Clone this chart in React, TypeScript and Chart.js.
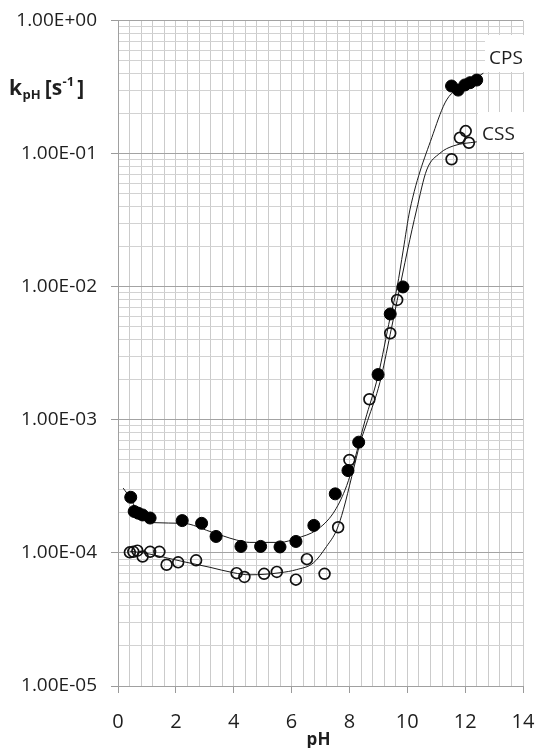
import React, { useEffect, useRef } from "react";
import { Chart, registerables } from "chart.js";

Chart.register(...registerables);

// ---- data ----
const CPS_PH = [0.44, 0.56, 0.70, 0.85, 1.11, 2.22, 2.89, 3.39, 4.25, 4.93, 5.60, 6.15, 6.77, 7.51, 7.95, 8.32, 8.99, 9.41, 9.85, 11.53, 11.76, 11.99, 12.17, 12.40];
const CPS_K = [2.62e-4, 2.05e-4, 1.99e-4, 1.93e-4, 1.83e-4, 1.75e-4, 1.67e-4, 1.33e-4, 1.12e-4, 1.12e-4, 1.11e-4, 1.22e-4, 1.61e-4, 2.78e-4, 4.16e-4, 6.8e-4, 2.19e-3, 6.25e-3, 9.98e-3, 0.323, 0.301, 0.329, 0.342, 0.358];

const CSS_PH = [0.41, 0.53, 0.67, 0.85, 1.11, 1.43, 1.68, 2.08, 2.70, 4.10, 4.37, 5.05, 5.49, 6.15, 6.53, 7.14, 7.61, 8.00, 8.69, 9.41, 9.65, 11.53, 11.82, 12.02, 12.13];
const CSS_K = [1.01e-4, 1.02e-4, 1.04e-4, 9.4e-5, 1.02e-4, 1.02e-4, 8.15e-5, 8.5e-5, 8.8e-5, 7.05e-5, 6.6e-5, 6.97e-5, 7.2e-5, 6.3e-5, 8.98e-5, 6.97e-5, 1.56e-4, 5.0e-4, 1.43e-3, 4.48e-3, 7.97e-3, 9.1e-2, 0.132, 0.148, 0.121];

const CPS_FIT_PH = [0.18, 0.44, 0.70, 1.00, 1.22, 2.26, 3.18, 4.10, 4.56, 5.60, 6.18, 6.87, 7.44, 7.85, 8.08, 8.54, 8.99, 9.41, 9.65, 9.86, 10.09, 10.90, 11.36, 12.00, 12.63];
const CPS_FIT_K = [3.07e-4, 2.55e-4, 2.0e-4, 1.78e-4, 1.69e-4, 1.67e-4, 1.45e-4, 1.25e-4, 1.2e-4, 1.2e-4, 1.29e-4, 1.49e-4, 1.99e-4, 2.98e-4, 4.2e-4, 9.9e-4, 2.15e-3, 5.9e-3, 1.0e-2, 1.89e-2, 3.78e-2, 0.1426, 0.254, 0.33, 0.403];

const CSS_FIT_PH = [0.40, 0.90, 1.57, 2.26, 3.18, 3.99, 4.56, 5.60, 6.18, 6.75, 7.21, 7.56, 7.79, 8.08, 8.37, 8.63, 9.05, 9.41, 9.65, 10.01, 10.32, 10.67, 11.13, 11.59, 12.40];
const CSS_FIT_K = [1.03e-4, 1.0e-4, 9.3e-5, 8.6e-5, 7.8e-5, 7.1e-5, 6.85e-5, 7.1e-5, 7.5e-5, 8.4e-5, 1.12e-4, 1.49e-4, 2.11e-4, 3.75e-4, 6.7e-4, 9.9e-4, 1.9e-3, 4.4e-3, 7.9e-3, 1.89e-2, 3.78e-2, 7.55e-2, 0.101, 0.1145, 0.123];

const X_TICK_LABELS = ["0", "2", "4", "6", "8", "10", "12", "14"];
const Y_TICK_LABELS = ["1.00E-05", "1.00E-04", "1.00E-03", "1.00E-02", "1.00E-01", "1.00E+00"];
const X_MIN = 0;
const X_MAX = 14;
const X_GRID_STEP = 0.4;
const Y_MIN_EXP = -5;
const Y_MAX_EXP = 0;

const FONT = "'Open Sans', 'DejaVu Sans', sans-serif";
const TEXT = "#1e1e1e";

const xGridValues: number[] = [];
for (let i = 0; i <= Math.round((X_MAX - X_MIN) / X_GRID_STEP); i++) xGridValues.push(+(X_MIN + i * X_GRID_STEP).toFixed(4));
const yGridValues: number[] = [];
for (let e = Y_MIN_EXP; e < Y_MAX_EXP; e++) for (let m = 1; m <= 9; m++) yGridValues.push(+(m * Math.pow(10, e)).toPrecision(6));
yGridValues.push(Math.pow(10, Y_MAX_EXP));

const isEven = (v: number) => Math.abs(v - Math.round(v)) < 1e-6 && Math.round(v) % 2 === 0;
const isDecade = (v: number) => { const l = Math.log10(v); return Math.abs(l - Math.round(l)) < 1e-6; };

const pts = (xs: number[], ys: number[]) => xs.map((x, i) => ({ x, y: ys[i] }));

const textPlugin = {
  id: "textPlugin",
  beforeDatasetsDraw(chart: any) {
    const ctx = chart.ctx;
    ctx.save();
    ctx.fillStyle = "#ffffff";
    ctx.fillRect(485, 35, 50, 37);
    ctx.fillRect(478, 112, 57, 40);
    ctx.fillStyle = TEXT;
    ctx.font = `19px ${FONT}`;
    ctx.textAlign = "left";
    ctx.textBaseline = "alphabetic";
    ctx.fillText("CPS", 489, 64);
    ctx.fillText("CSS", 482, 140);
    ctx.restore();
  },
  afterDraw(chart: any) {
    const ctx = chart.ctx;
    ctx.save();
    ctx.fillStyle = TEXT;
    ctx.textAlign = "left";
    ctx.textBaseline = "alphabetic";
    const base = 95;
    let x = 9;
    ctx.font = `bold 21px ${FONT}`;
    ctx.fillText("k", x, base);
    x += ctx.measureText("k").width + 0.5;
    ctx.font = `bold 13px ${FONT}`;
    ctx.fillText("pH", x, base + 4);
    x += ctx.measureText("pH").width + 4;
    ctx.font = `bold 21px ${FONT}`;
    ctx.fillText("[s", x, base);
    x += ctx.measureText("[s").width + 0.5;
    ctx.font = `bold 13px ${FONT}`;
    ctx.fillText("-1", x, base - 9);
    x += ctx.measureText("-1").width + 3;
    ctx.font = `bold 21px ${FONT}`;
    ctx.fillText("]", x, base);

    const a = chart.chartArea;
    ctx.font = `bold 17px ${FONT}`;
    ctx.textAlign = "center";
    ctx.fillText("pH", (a.left + a.right) / 2 - 2, 745);
    ctx.restore();
  },
};

export default function App() {
  const ref = useRef<HTMLCanvasElement | null>(null);
  useEffect(() => {
    document.body.style.margin = "0";
    const canvas = ref.current;
    if (!canvas) return;
    const chart = new Chart(canvas, {
      type: "scatter",
      data: {
        datasets: [
          {
            label: "CPS",
            data: pts(CPS_PH, CPS_K),
            showLine: false,
            pointRadius: 6,
            pointBackgroundColor: "#000000",
            pointBorderColor: "#000000",
            pointBorderWidth: 1,
            order: 0,
          },
          {
            label: "CSS",
            data: pts(CSS_PH, CSS_K),
            showLine: false,
            pointRadius: 5.4,
            pointBackgroundColor: "rgba(0,0,0,0)",
            pointBorderColor: "#111111",
            pointBorderWidth: 1.7,
            order: 0,
          },
          {
            label: "CPS fit",
            data: pts(CPS_FIT_PH, CPS_FIT_K),
            showLine: true,
            borderColor: "#1a1a1a",
            borderWidth: 1,
            pointRadius: 0,
            cubicInterpolationMode: "monotone",
            order: 1,
          },
          {
            label: "CSS fit",
            data: pts(CSS_FIT_PH, CSS_FIT_K),
            showLine: true,
            borderColor: "#1a1a1a",
            borderWidth: 1,
            pointRadius: 0,
            cubicInterpolationMode: "monotone",
            order: 1,
          },
        ],
      },
      options: {
        animation: false,
        responsive: true,
        maintainAspectRatio: false,
        layout: { padding: { top: 20.7, right: 12, left: 0, bottom: 0 } },
        plugins: { legend: { display: false }, tooltip: { enabled: false } },
        scales: {
          x: {
            type: "linear",
            min: X_MIN,
            max: X_MAX,
            afterBuildTicks: (s: any) => { s.ticks = xGridValues.map((v) => ({ value: v })); },
            afterFit: (s: any) => { s.height = 62; s.paddingLeft = 0; s.paddingRight = 0; },
            ticks: {
              autoSkip: false,
              maxRotation: 0,
              minRotation: 0,
              padding: 17,
              color: TEXT,
              font: { family: FONT, size: 20 },
              callback: (v: any) => (isEven(+v) ? X_TICK_LABELS[Math.round(+v / 2)] : ""),
            },
            grid: {
              color: "#cbcbcb",
              lineWidth: 1,
              tickLength: 7,
              tickColor: (c: any) => (c.tick && isEven(c.tick.value) ? "#9a9a9a" : "rgba(0,0,0,0)"),
            },
            border: { color: "#a0a0a0" },
          },
          y: {
            type: "logarithmic",
            min: Math.pow(10, Y_MIN_EXP),
            max: Math.pow(10, Y_MAX_EXP),
            afterBuildTicks: (s: any) => { s.ticks = yGridValues.map((v) => ({ value: v })); },
            afterFit: (s: any) => { s.width = 118; s.paddingTop = 0; s.paddingBottom = 0; },
            ticks: {
              autoSkip: false,
              padding: 14,
              color: TEXT,
              font: { family: FONT, size: 19 },
              callback: (v: any) => (isDecade(+v) ? Y_TICK_LABELS[Math.round(Math.log10(+v)) - Y_MIN_EXP] : ""),
            },
            grid: {
              color: (c: any) => (c.tick && isDecade(c.tick.value) ? "#a3a3a3" : "#d2d2d2"),
              lineWidth: 1,
              tickLength: 7,
              tickColor: (c: any) => (c.tick && isDecade(c.tick.value) ? "#9a9a9a" : "rgba(0,0,0,0)"),
            },
            border: { color: "#a0a0a0" },
          },
        },
      },
      plugins: [textPlugin],
    });
    return () => chart.destroy();
  }, []);
  return (
    <div style={{ position: "fixed", left: 0, top: 0, width: 535, height: 748, background: "#fff" }}>
      <canvas ref={ref} width={535} height={748} />
    </div>
  );
}
